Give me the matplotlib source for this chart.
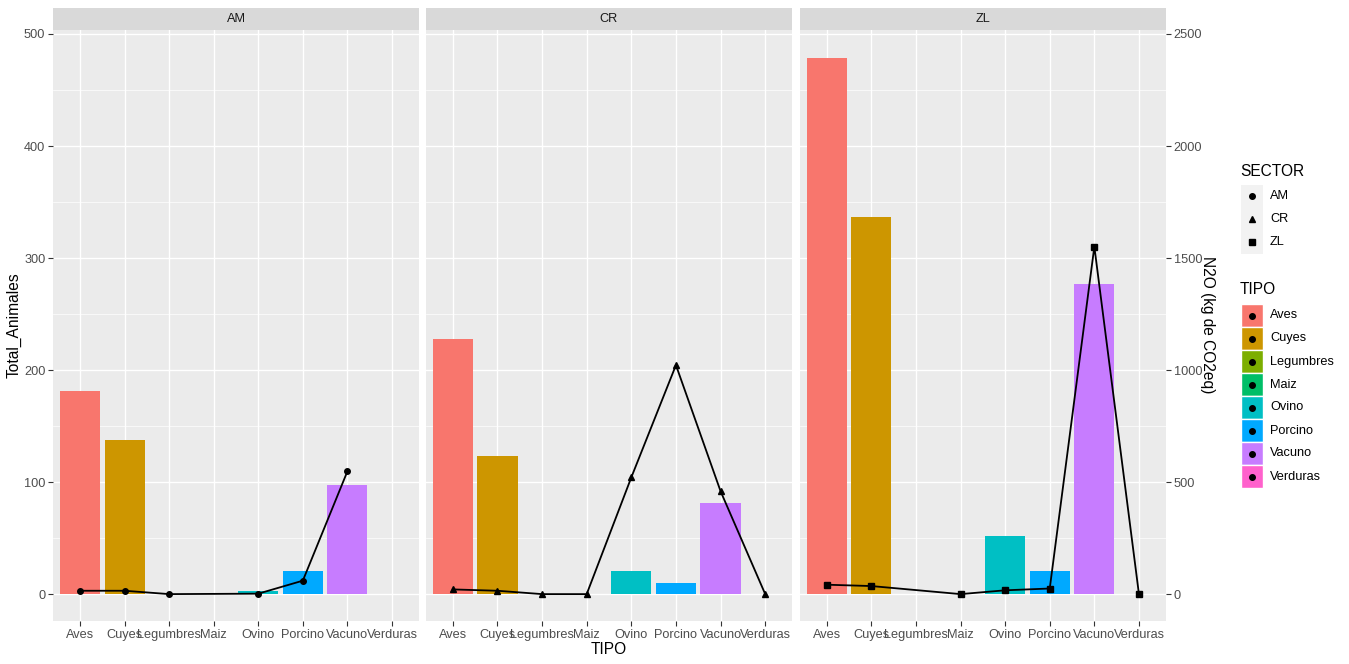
import numpy as np
import matplotlib
matplotlib.use("Agg")
import matplotlib.pyplot as plt
from matplotlib.patches import Rectangle

plt.rcParams['font.family'] = ['Liberation Sans', 'DejaVu Sans']

tipos = ['Aves', 'Cuyes', 'Legumbres', 'Maiz', 'Ovino', 'Porcino', 'Vacuno', 'Verduras']
sectores = ['AM', 'CR', 'ZL']
colores = ['#F8766D', '#CD9600', '#7CAE00', '#00BE67', '#00BFC4', '#00A9FF', '#C77CFF', '#FF61CC']
marcadores = ['o', '^', 's']

# Total_Animales por sector (nan = sin barra)
am_animales = [181, 138, np.nan, np.nan, 3, 21, 97, np.nan]
cr_animales = [228, 123, np.nan, np.nan, 21, 10, 81, np.nan]
zl_animales = [479, 337, np.nan, np.nan, 52, 21, 277, np.nan]

# N2O (kg de CO2eq) por sector (nan = sin punto)
am_n2o = [15, 15, 0, np.nan, 2, 60, 548, np.nan]
cr_n2o = [21, 15, 0, 0, 521, 1022, 459, 0]
zl_n2o = [42, 36, np.nan, 0, 17, 25, 1551, 0]

animales = [am_animales, cr_animales, zl_animales]
n2o = [am_n2o, cr_n2o, zl_n2o]

W, H = 1349, 664
fig = plt.figure(figsize=(W / 100, H / 100), dpi=100)
fig.patch.set_facecolor('white')

paneles = [(53.3, 418.7), (426, 792), (800, 1165.7)]
y_top, y_bot = 29.5, 621
strip_top = 7.5

txt_col = '#4D4D4D'
tick_col = '#333333'
fs_tick = 9.2
fs_title = 11.2
ylim = (-24, 504)
escala = 5

x = np.arange(len(tipos))
for i, (x0, x1) in enumerate(paneles):
    ax = fig.add_axes([x0 / W, 1 - y_bot / H, (x1 - x0) / W, (y_bot - y_top) / H])
    ax.set_facecolor('#EBEBEB')
    for s in ax.spines.values():
        s.set_visible(False)
    ax.set_xlim(-0.6, len(tipos) - 0.4)
    ax.set_ylim(*ylim)
    ax.set_yticks([0, 100, 200, 300, 400, 500])
    ax.set_yticks([50, 150, 250, 350, 450], minor=True)
    ax.set_xticks(x)
    ax.set_xticklabels(tipos)
    ax.grid(which='major', color='white', lw=1.0)
    ax.grid(which='minor', axis='y', color='white', lw=0.5)
    ax.set_axisbelow(True)
    ax.tick_params(axis='both', which='major', length=3.7, width=0.8, color=tick_col,
                   labelcolor=txt_col, labelsize=fs_tick, pad=2)
    ax.tick_params(axis='y', which='minor', length=0)
    if i > 0:
        ax.tick_params(axis='y', which='major', length=0, labelleft=False)

    ax.bar(x, animales[i], width=0.9, color=colores, zorder=2)

    ax2 = ax.twinx()
    ax2.set_ylim(ylim[0] * escala, ylim[1] * escala)
    for s in ax2.spines.values():
        s.set_visible(False)
    vals = np.array(n2o[i], dtype=float)
    ok = ~np.isnan(vals)
    ax2.plot(x[ok], vals[ok], color='black', lw=1.3, marker=marcadores[i], ms=4.0, zorder=3)
    if i == 2:
        ax2.set_yticks([0, 500, 1000, 1500, 2000, 2500])
        ax2.tick_params(axis='y', length=3.7, width=0.8, color=tick_col,
                        labelcolor=txt_col, labelsize=fs_tick, pad=2)
    else:
        ax2.set_yticks([])

    # franja del facet
    sax = fig.add_axes([x0 / W, 1 - y_top / H, (x1 - x0) / W, (y_top - strip_top) / H])
    sax.set_facecolor('#D9D9D9')
    sax.set_xticks([])
    sax.set_yticks([])
    for s in sax.spines.values():
        s.set_visible(False)
    sax.text(0.5, 0.5, sectores[i], ha='center', va='center', fontsize=fs_tick,
             color='#1A1A1A', transform=sax.transAxes)

# capa para titulos y leyenda
lax = fig.add_axes([0, 0, 1, 1])
lax.set_xlim(0, W)
lax.set_ylim(H, 0)
lax.axis('off')

lax.text(14, 325, 'Total_Animales', rotation=90, ha='center', va='center', fontsize=fs_title)
lax.text(609, 649, 'TIPO', ha='center', va='center', fontsize=fs_title)
lax.text(1208, 325, 'N2O (kg de CO2eq)', rotation=270, ha='center', va='center', fontsize=fs_title)

# leyenda SECTOR
lax.text(1240, 171, 'SECTOR', ha='left', va='center', fontsize=fs_title)
lax.add_patch(Rectangle((1240.5, 184.5), 22, 69, facecolor='#F2F2F2', edgecolor='none'))
for k, sec in enumerate(sectores):
    yy = 196 + 23 * k
    lax.plot([1251.5], [yy], marker=marcadores[k], color='black', ms=4.0, ls='none')
    lax.text(1270, yy, sec, ha='left', va='center', fontsize=fs_tick)

# leyenda TIPO
lax.text(1240, 290, 'TIPO', ha='left', va='center', fontsize=fs_title)
for k, t in enumerate(tipos):
    yy = 315.5 + 23 * k
    lax.add_patch(Rectangle((1240.5, yy - 11.5), 22, 23, facecolor=colores[k],
                            edgecolor='white', lw=1.0))
    lax.plot([1251.5], [yy], marker='o', color='black', ms=4.0, ls='none')
    lax.text(1270, yy, t, ha='left', va='center', fontsize=fs_tick)

fig.savefig('out.png', dpi=100)
